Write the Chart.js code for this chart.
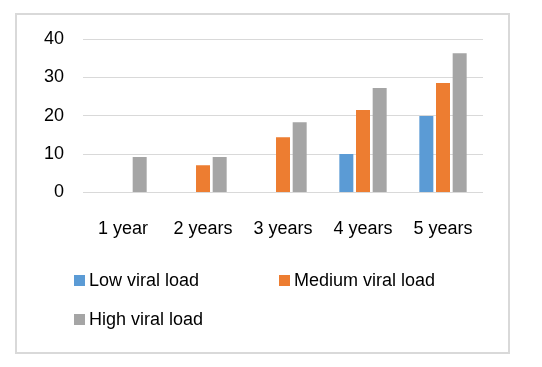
<!DOCTYPE html>
<html>
<head>
<meta charset="utf-8">
<script src="https://cdn.jsdelivr.net/npm/chart.js@4"></script>
<style>
    body { margin: 0; background: #fff; }
    #wrap { position: relative; width: 542px; height: 367px; }
    #moldura { position: absolute; left: 15px; top: 13px; width: 491px; height: 337px; border: 2px solid #d9d9d9; }
    #grafico { position: absolute; left: 0; top: 0; }
    .legenda-item { position: absolute; font: 18px "Liberation Sans", Arial, sans-serif; color: #000; white-space: nowrap; line-height: 20px; }
    .legenda-item span { display: inline-block; width: 11px; height: 11px; margin-right: 4px; vertical-align: 0px; }
</style>
</head>
<body>
<div id="wrap">
    <div id="moldura"></div>
    <canvas id="grafico" width="542" height="367"></canvas>
</div>
<script>
// dados do gráfico
const categorias = ['1 year', '2 years', '3 years', '4 years', '5 years'];
const cargaBaixa = [null, null, null, 10.0, 19.9];
const cargaMedia = [null, 7.1, 14.4, 21.5, 28.5];
const cargaAlta = [9.2, 9.2, 18.3, 27.2, 36.3];
const nomesSeries = ['Low viral load', 'Medium viral load', 'High viral load'];
const coresSeries = ['#5B9BD5', '#ED7D31', '#A5A5A5'];
const ticksY = [0, 10, 20, 30, 40];

// posição de cada item da legenda (coluna, linha)
const posicoesLegenda = [[74, 270], [279, 270], [74, 309]];

document.addEventListener('DOMContentLoaded', function() {
    criarGrafico();
    criarLegenda();
});

function criarGrafico() {
    const ctx = document.getElementById('grafico');
    const series = [cargaBaixa, cargaMedia, cargaAlta];

    new Chart(ctx, {
        type: 'bar',
        data: {
            labels: categorias,
            datasets: series.map((valores, i) => ({
                label: nomesSeries[i],
                data: valores,
                backgroundColor: coresSeries[i],
                borderWidth: 0,
                categoryPercentage: 0.625,
                barPercentage: 0.84
            }))
        },
        options: {
            responsive: false,
            animation: false,
            layout: {
                padding: { left: 25, right: 59, top: 39, bottom: 109 }
            },
            plugins: {
                legend: { display: false },
                tooltip: { enabled: false }
            },
            scales: {
                y: {
                    min: 0,
                    max: 40,
                    afterBuildTicks: axis => { axis.ticks = ticksY.map(v => ({ value: v })); },
                    border: { display: false },
                    grid: { color: '#d9d9d9', lineWidth: 1, drawTicks: false },
                    ticks: {
                        color: '#000',
                        padding: 19,
                        font: { family: '"Liberation Sans", Arial, sans-serif', size: 18 }
                    }
                },
                x: {
                    border: { display: false },
                    grid: { display: false },
                    ticks: {
                        color: '#000',
                        padding: 18,
                        font: { family: '"Liberation Sans", Arial, sans-serif', size: 18 }
                    }
                }
            }
        }
    });
}

function criarLegenda() {
    const wrap = document.getElementById('wrap');
    nomesSeries.forEach((nome, i) => {
        const item = document.createElement('div');
        item.className = 'legenda-item';
        item.style.left = posicoesLegenda[i][0] + 'px';
        item.style.top = posicoesLegenda[i][1] + 'px';
        item.innerHTML = `<span style="background:${coresSeries[i]}"></span>${nome}`;
        wrap.appendChild(item);
    });
}
</script>
</body>
</html>
